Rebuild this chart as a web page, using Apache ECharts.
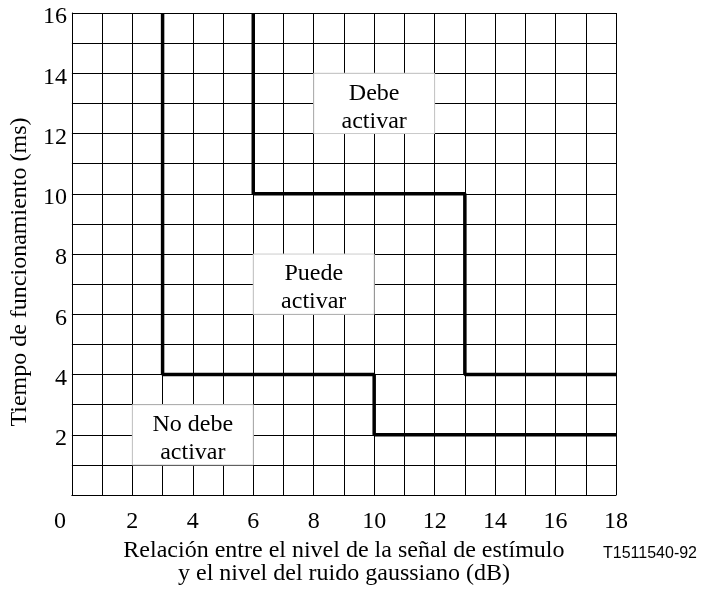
<!DOCTYPE html>
<html lang="es">
<head>
    <meta charset="UTF-8">
    <title>Tiempo de funcionamiento</title>
    <script src="https://cdn.jsdelivr.net/npm/echarts@6/dist/echarts.min.js"></script>
    <style>
        body { margin: 0; background: #fff; }
        #chart { width: 703px; height: 591px; }
    </style>
</head>
<body>
    <div id="chart"></div>
    <script>
        // limites de las zonas (dB, ms)
        var noDebeX = [3, 3, 10, 10, 18];
        var noDebeY = [16, 4, 4, 2, 2];
        var debeX = [6, 6, 13, 13, 18];
        var debeY = [16, 10, 10, 4, 4];

        // rotulos de zona y su recuadro [x0, y0, x1, y1]
        var zonaTextos = ['No debe\nactivar', 'Puede\nactivar', 'Debe\nactivar'];
        var zonaCajas = [[2, 1, 6, 3], [6, 6, 10, 8], [8, 12, 12, 14]];

        var serif = '"Liberation Serif", "Times New Roman", serif';

        function pares(xs, ys) {
            return xs.map(function (x, i) { return [x, ys[i]]; });
        }

        var chart = echarts.init(document.getElementById('chart'));

        var option = {
            animation: false,
            title: {
                text: 'T1511540-92',
                left: 603,
                top: 546,
                padding: 0,
                textStyle: { fontFamily: '"Liberation Sans", Arial, sans-serif', fontSize: 16, fontWeight: 'normal', color: '#000' }
            },
            grid: { left: 70, top: 13, width: 546, height: 483, show: false },
            xAxis: {
                type: 'value',
                min: 0, max: 18, interval: 1,
                name: 'Relación entre el nivel de la señal de estímulo\ny el nivel del ruido gaussiano (dB)',
                nameLocation: 'middle',
                nameGap: 43,
                nameTextStyle: { fontFamily: serif, fontSize: 24, color: '#000', lineHeight: 23 },
                axisLine: { show: true, lineStyle: { color: '#000', width: 1 } },
                axisTick: { show: false },
                splitLine: { show: true, lineStyle: { color: '#000', width: 1 } },
                axisLabel: {
                    margin: 15,
                    fontFamily: serif, fontSize: 24, color: '#000',
                    formatter: function (v) {
                        if (v === 0) return '{z|0}';
                        return v % 2 === 0 ? String(v) : '';
                    },
                    rich: { z: { fontFamily: serif, fontSize: 24, color: '#000', padding: [0, 24, 0, 0] } }
                }
            },
            yAxis: {
                type: 'value',
                min: 0, max: 16, interval: 1,
                name: 'Tiempo de funcionamiento (ms)',
                nameLocation: 'middle',
                nameGap: 31,
                nameTextStyle: { fontFamily: serif, fontSize: 24, color: '#000', padding: [0, 36, 0, 0] },
                axisLine: { show: true, lineStyle: { color: '#000', width: 1 } },
                axisTick: { show: false },
                splitLine: { show: true, lineStyle: { color: '#000', width: 1 } },
                axisLabel: {
                    margin: 5,
                    fontFamily: serif, fontSize: 24, color: '#000',
                    formatter: function (v) {
                        return (v > 0 && v % 2 === 0) ? '{n|' + v + '}' : '';
                    },
                    rich: { n: { fontFamily: serif, fontSize: 24, color: '#000', padding: [8, 0, 0, 0] } }
                }
            },
            series: [
                {
                    type: 'line',
                    data: pares(noDebeX, noDebeY),
                    symbol: 'none',
                    lineStyle: { color: '#000', width: 3.5 },
                    z: 3,
                    markArea: {
                        silent: true,
                        itemStyle: { color: '#fff', borderColor: '#ccc', borderWidth: 1 },
                        label: {
                            show: true,
                            position: 'inside',
                            offset: [0, 4],
                            fontFamily: serif, fontSize: 24, color: '#000', lineHeight: 28
                        },
                        data: zonaCajas.map(function (c, i) {
                            return [
                                { name: zonaTextos[i], coord: [c[0], c[1]] },
                                { coord: [c[2], c[3]] }
                            ];
                        })
                    }
                },
                {
                    type: 'line',
                    data: pares(debeX, debeY),
                    symbol: 'none',
                    lineStyle: { color: '#000', width: 3.5 },
                    z: 3
                }
            ]
        };

        chart.setOption(option);
    </script>
</body>
</html>
